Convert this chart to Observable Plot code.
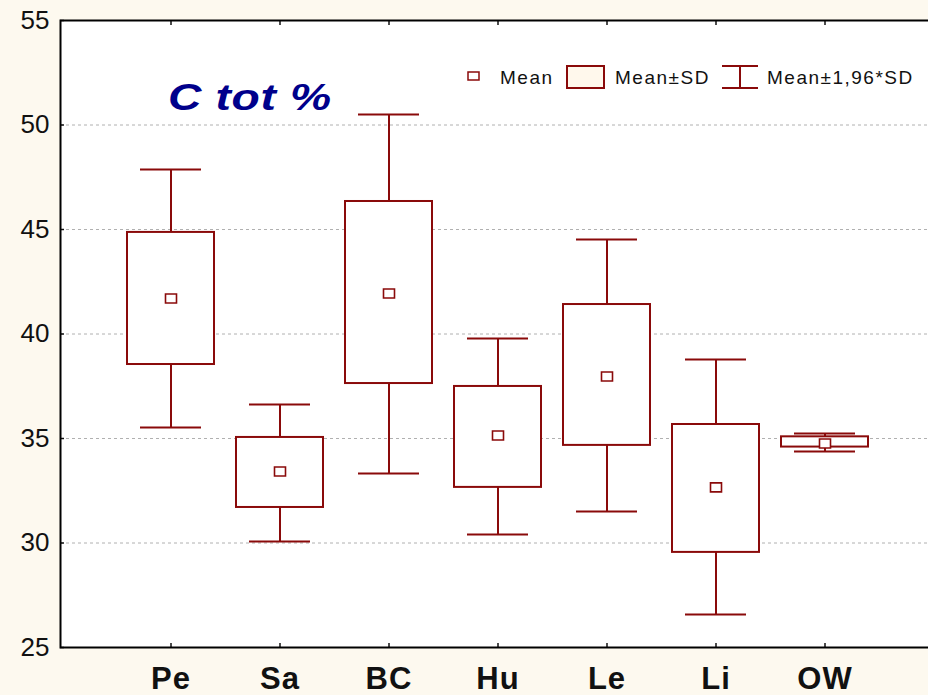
<!DOCTYPE html>
<html>
<head>
<meta charset="utf-8">
<script src="https://cdn.jsdelivr.net/npm/d3@7"></script>
<script src="https://cdn.jsdelivr.net/npm/@observablehq/plot@0.6"></script>
<style>
  html, body { margin: 0; padding: 0; background: #FDF9EF; overflow: hidden; width: 928px; height: 695px; }
  #chart { width: 928px; height: 695px; overflow: hidden; }
  #chart svg { display: block; max-width: none !important; }
</style>
</head>
<body>
<div id="chart"></div>
<script>
const categories = ["Pe", "Sa", "BC", "Hu", "Le", "Li", "OW"];
const means  = [41.70, 33.42, 41.94, 35.14, 37.97, 32.66, 34.76];
const sdLow  = [38.54, 31.70, 37.63, 32.66, 34.67, 29.55, 34.59];
const sdHigh = [44.86, 35.05, 46.34, 37.49, 41.41, 35.67, 35.08];
const ciLow  = [35.53, 30.07, 33.33, 30.41, 31.51, 26.58, 34.38];
const ciHigh = [47.87, 36.63, 50.50, 39.78, 44.52, 38.78, 35.24];
const yTicks = [25, 30, 35, 40, 45, 50, 55];
const titleText = "C tot %";
const legendLabels = ["Mean", "Mean±SD", "Mean±1,96*SD"];

const data = categories.map((c, i) => ({
  cat: c, mean: means[i], sdLow: sdLow[i], sdHigh: sdHigh[i], ciLow: ciLow[i], ciHigh: ciHigh[i]
}));

const red = "#8a0a0a";
const meanSymbol = { draw(ctx) { ctx.rect(-5.5, -4.5, 11, 9); } };

const chart = Plot.plot({
  width: 940,
  height: 695,
  marginLeft: 60,
  marginRight: 5,
  marginTop: 20,
  marginBottom: 48,
  style: { background: "#FDF9EF", fontFamily: "'Liberation Sans', Arial, sans-serif", color: "#111", maxWidth: "none" },
  x: { type: "band", domain: categories, paddingInner: 0, paddingOuter: 0.5, label: null },
  y: { domain: [25, 55], label: null },
  marks: [
    Plot.frame({ fill: "white", stroke: "none" }),
    Plot.gridY(yTicks.slice(1, -1), { stroke: "#b0b0b0", strokeOpacity: 1, strokeDasharray: "3,3" }),
    Plot.ruleX(data, { x: "cat", y1: "ciLow", y2: "ciHigh", stroke: red, strokeWidth: 2 }),
    Plot.tickY(data, { x: "cat", y: "ciLow", stroke: red, strokeWidth: 2, insetLeft: 24, insetRight: 24 }),
    Plot.tickY(data, { x: "cat", y: "ciHigh", stroke: red, strokeWidth: 2, insetLeft: 24, insetRight: 24 }),
    Plot.barY(data, { x: "cat", y1: "sdLow", y2: "sdHigh", fill: "white", stroke: red, strokeWidth: 2, insetLeft: 11, insetRight: 11 }),
    Plot.dot(data, { x: "cat", y: "mean", symbol: meanSymbol, fill: "white", stroke: red, strokeWidth: 1.6 }),
    Plot.axisY({ ticks: yTicks, tickSize: 0, tickPadding: 11, fontSize: 26, label: null, fill: "#111" }),
    Plot.axisY({ ticks: yTicks, tickSize: -4, tickFormat: () => "", label: null, strokeWidth: 1.5 }),
    Plot.axisX({ anchor: "bottom", tickSize: -4, tickPadding: 23, fontSize: 31, fontWeight: "bold", label: null, strokeWidth: 1.5, fill: "#111" }),
    Plot.axisX({ anchor: "top", tickSize: -4, tickFormat: () => "", label: null, strokeWidth: 1.5 }),
    Plot.frame({ stroke: "#000", strokeWidth: 2 })
  ]
});

document.getElementById("chart").appendChild(chart);
d3.select(chart).selectAll("[aria-label='x-axis tick label'] text").attr("letter-spacing", 1);

// Title and legend overlay inside plot area
const svg = d3.select(chart);
svg.append("text")
  .attr("transform", "translate(168,110) scale(1.25,1)")
  .attr("text-anchor", "start")
  .attr("font-size", 37).attr("font-weight", "bold").attr("font-style", "italic")
  .attr("letter-spacing", 0.5)
  .attr("fill", "#00008B")
  .attr("font-family", "'Liberation Sans', Arial, sans-serif")
  .text(titleText);

const lg = svg.append("g")
  .attr("text-anchor", "start")
  .attr("font-family", "'Liberation Sans', Arial, sans-serif")
  .attr("font-size", 19).attr("letter-spacing", 1.5).attr("fill", "#111");
lg.append("rect").attr("x", 468).attr("y", 72).attr("width", 11).attr("height", 8)
  .attr("fill", "white").attr("stroke", red).attr("stroke-width", 1.5);
lg.append("text").attr("x", 500).attr("y", 84).text(legendLabels[0]);
lg.append("rect").attr("x", 567).attr("y", 66).attr("width", 37).attr("height", 22)
  .attr("fill", "#FFF8EC").attr("stroke", red).attr("stroke-width", 2);
lg.append("text").attr("x", 615).attr("y", 84).text(legendLabels[1]);
lg.append("line").attr("x1", 722).attr("x2", 758).attr("y1", 66).attr("y2", 66).attr("stroke", red).attr("stroke-width", 2);
lg.append("line").attr("x1", 722).attr("x2", 758).attr("y1", 88).attr("y2", 88).attr("stroke", red).attr("stroke-width", 2);
lg.append("line").attr("x1", 740).attr("x2", 740).attr("y1", 66).attr("y2", 88).attr("stroke", red).attr("stroke-width", 2);
lg.append("text").attr("x", 767).attr("y", 84).text(legendLabels[2]);
</script>
</body>
</html>
